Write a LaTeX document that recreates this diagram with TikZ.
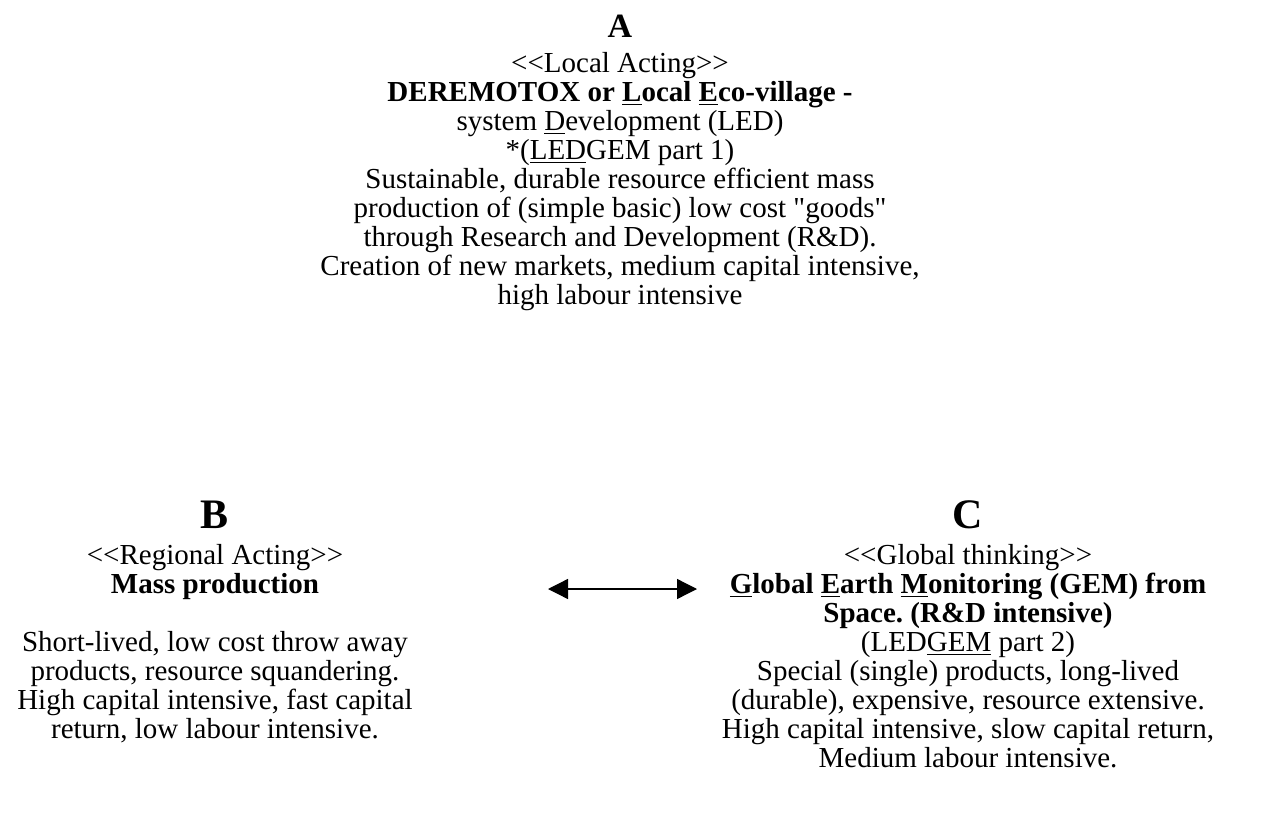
\documentclass[tikz,border=0pt]{standalone}
\usepackage{fontspec}
\setmainfont{Liberation Serif}[Ligatures=TeXOff]
\usetikzlibrary{positioning,arrows.meta}

\begin{document}
\frenchspacing
\begin{tikzpicture}[x=0.5pt,y=0.5pt,
        txt/.style={align=center,inner sep=0pt,font=\fontsize{14.5}{14.5}\selectfont},
        ttlA/.style={inner sep=0pt,anchor=base,font=\fontsize{17}{18}\selectfont\bfseries},
        ttl/.style={inner sep=0pt,anchor=base,font=\fontsize{21}{22}\selectfont\bfseries},
        link/.style={line width=0.65pt,{Triangle[length=10pt,width=10pt]}-{Triangle[length=10pt,width=10pt]}}]
            \useasboundingbox (0,0) rectangle (1271,-830);

            \node[ttlA] (titleA) at (620,-38) {A};
            \node[txt,below=6.6pt of titleA] (bodyA) {%
                <<Local Acting>>\\
                \textbf{DEREMOTOX or \underline{L}ocal \underline{E}co-village -}\\
                system \underline{D}evelopment (LED)\\
                *(\underline{LED}GEM part 1)\\
                Sustainable, durable resource efficient mass\\
                production of (simple basic) low cost "goods"\\
                through Research and Development (R\&D).\\
                Creation of new markets, medium capital intensive,\\
                high labour intensive};

            \node[ttl] (titleB) at (215,-528) {B};
            \node[txt,below=7.6pt of titleB] (bodyB) {%
                <<Regional Acting>>\\
                \textbf{Mass production}\\[14.5pt]
                Short-lived, low cost throw away\\
                products, resource squandering.\\
                High capital intensive, fast capital\\
                return, low labour intensive.};

            \node[ttl] (titleC) at (968,-528) {C};
            \node[txt,below=7.6pt of titleC] (bodyC) {%
                <<Global thinking>>\\
                \textbf{\underline{G}lobal \underline{E}arth \underline{M}onitoring (GEM) from}\\
                \textbf{Space. (R\&D intensive)}\\
                (LED\underline{GEM} part 2)\\
                Special (single) products, long-lived\\
                (durable), expensive, resource extensive.\\
                High capital intensive, slow capital return,\\
                Medium labour intensive.};

            \coordinate (arrL) at (548,-589);
            \coordinate (arrR) at (697,-589);
            \draw[link] (arrL) -- (arrR);

        \end{tikzpicture}
\end{document}
